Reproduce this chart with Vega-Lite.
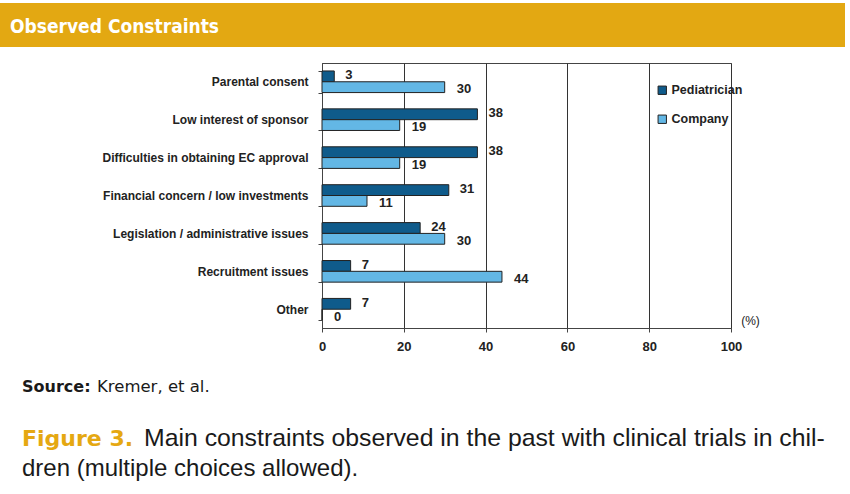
{
  "$schema": "https://vega.github.io/schema/vega-lite/v6.json",
  "autosize": {"type": "none"},
  "width": 409,
  "height": 265,
  "padding": {"left": 322, "top": 63, "right": 119, "bottom": 166},
  "background": "white",
  "config": {
    "view": {"stroke": "#444", "strokeWidth": 1},
    "font": "Liberation Sans"
  },
  "datasets": {
    "bars": [
      {"cat": "Parental consent", "group": "Pediatrician", "value": 3},
      {"cat": "Parental consent", "group": "Company", "value": 30},
      {"cat": "Low interest of sponsor", "group": "Pediatrician", "value": 38},
      {"cat": "Low interest of sponsor", "group": "Company", "value": 19},
      {"cat": "Difficulties in obtaining EC approval", "group": "Pediatrician", "value": 38},
      {"cat": "Difficulties in obtaining EC approval", "group": "Company", "value": 19},
      {"cat": "Financial concern / low investments", "group": "Pediatrician", "value": 31},
      {"cat": "Financial concern / low investments", "group": "Company", "value": 11},
      {"cat": "Legislation / administrative issues", "group": "Pediatrician", "value": 24},
      {"cat": "Legislation / administrative issues", "group": "Company", "value": 30},
      {"cat": "Recruitment issues", "group": "Pediatrician", "value": 7},
      {"cat": "Recruitment issues", "group": "Company", "value": 44},
      {"cat": "Other", "group": "Pediatrician", "value": 7},
      {"cat": "Other", "group": "Company", "value": 0}
    ]
  },
  "layer": [
    {
      "data": {"values": [{"t": "banner"}]},
      "mark": {"type": "rect", "x": -322, "x2": 523, "y": -60, "y2": -16, "fill": "#E3A812"},
      "encoding": {}
    },
    {
      "data": {"values": [{"t": "Observed Constraints"}]},
      "mark": {"type": "text", "x": -312, "y": -36, "align": "left", "baseline": "middle", "font": "DejaVu Sans Condensed", "fontWeight": "bold", "fontSize": 19, "fill": "white"},
      "encoding": {"text": {"field": "t"}}
    },
    {
      "data": {"values": [{"t": "Source:"}]},
      "mark": {"type": "text", "x": -300, "y": 324, "align": "left", "baseline": "middle", "font": "DejaVu Sans", "fontWeight": "bold", "fontSize": 16, "fill": "#1a1a1a"},
      "encoding": {"text": {"field": "t"}}
    },
    {
      "data": {"values": [{"t": "Kremer, et al."}]},
      "mark": {"type": "text", "x": -225, "y": 324, "align": "left", "baseline": "middle", "font": "DejaVu Sans", "fontSize": 16.5, "fill": "#1a1a1a"},
      "encoding": {"text": {"field": "t"}}
    },
    {
      "data": {"values": [{"t": "Figure 3."}]},
      "mark": {"type": "text", "x": -300, "y": 376, "align": "left", "baseline": "middle", "font": "DejaVu Sans", "fontWeight": "bold", "fontSize": 22, "fill": "#E5A812"},
      "encoding": {"text": {"field": "t"}}
    },
    {
      "data": {"values": [{"t": "Main constraints observed in the past with clinical trials in chil-"}]},
      "mark": {"type": "text", "x": -178, "y": 376, "align": "left", "baseline": "middle", "fontSize": 24.8, "fill": "#1a1a1a"},
      "encoding": {"text": {"field": "t"}}
    },
    {
      "data": {"values": [{"t": "dren (multiple choices allowed)."}]},
      "mark": {"type": "text", "x": -300, "y": 406, "align": "left", "baseline": "middle", "fontSize": 24, "fill": "#1a1a1a"},
      "encoding": {"text": {"field": "t"}}
    },
    {
      "data": {"name": "bars"},
      "mark": {"type": "bar", "stroke": "#222", "strokeWidth": 1},
      "encoding": {
        "y": {
          "field": "cat", "type": "nominal", "sort": null,
          "scale": {"paddingInner": 0.43, "paddingOuter": 0.21},
          "axis": {"title": null, "tickBand": "extent", "tickSize": 4, "tickColor": "#444", "domainColor": "#444", "labelFont": "Liberation Sans", "labelFontWeight": "bold", "labelFontSize": 12, "labelColor": "#222", "labelPadding": 10, "labelLimit": 400, "grid": false}
        },
        "yOffset": {"field": "group", "type": "nominal", "sort": ["Pediatrician", "Company"]},
        "x": {
          "field": "value", "type": "quantitative",
          "scale": {"domain": [0, 100], "nice": false},
          "axis": {"values": [0, 20, 40, 60, 80, 100], "grid": true, "gridColor": "#333", "gridWidth": 1, "tickSize": 4, "tickColor": "#444", "domainColor": "#444", "labelFlush": false, "labelFontWeight": "bold", "labelFontSize": 13, "labelColor": "#222", "labelPadding": 8, "title": "(%)", "titleFontWeight": "normal", "titleFontSize": 12, "titleColor": "#222", "titleX": 428, "titleY": -8, "titleAlign": "center", "titleBaseline": "middle"}
        },
        "fill": {
          "field": "group", "type": "nominal",
          "scale": {"domain": ["Pediatrician", "Company"], "range": ["#0F5B8B", "#63B7E5"]},
          "legend": {"title": null, "orient": "none", "legendX": 334, "legendY": 21, "symbolType": "square", "symbolSize": 70, "symbolStrokeColor": "#222", "symbolStrokeWidth": 1, "labelFontWeight": "bold", "labelFontSize": 12.5, "labelColor": "#222", "rowPadding": 16, "labelOffset": 3}
        }
      }
    },
    {
      "data": {"name": "bars"},
      "transform": [{"filter": "datum.group === 'Pediatrician'"}],
      "mark": {"type": "text", "align": "left", "baseline": "middle", "dx": 11, "dy": -1, "fontWeight": "bold", "fontSize": 13, "fill": "#222"},
      "encoding": {
        "y": {"field": "cat", "type": "nominal", "sort": null},
        "yOffset": {"field": "group", "type": "nominal", "sort": ["Pediatrician", "Company"]},
        "x": {"field": "value", "type": "quantitative"},
        "text": {"field": "value", "type": "quantitative"}
      }
    },
    {
      "data": {"name": "bars"},
      "transform": [{"filter": "datum.group === 'Company'"}],
      "mark": {"type": "text", "align": "left", "baseline": "middle", "dx": 12, "dy": 2, "fontWeight": "bold", "fontSize": 13, "fill": "#222"},
      "encoding": {
        "y": {"field": "cat", "type": "nominal", "sort": null},
        "yOffset": {"field": "group", "type": "nominal", "sort": ["Pediatrician", "Company"]},
        "x": {"field": "value", "type": "quantitative"},
        "text": {"field": "value", "type": "quantitative"}
      }
    }
  ]
}
